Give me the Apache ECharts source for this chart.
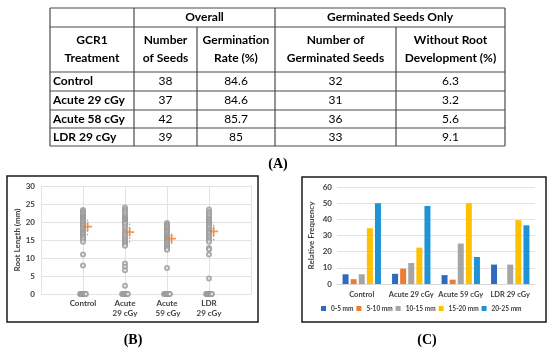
<!DOCTYPE html>
<html><head><meta charset="utf-8">
<script src="https://cdn.jsdelivr.net/npm/echarts@6/dist/echarts.min.js"></script>
<style>html,body{margin:0;padding:0;background:#fff}#c{width:550px;height:353px}</style>
</head><body><div id="c"></div>
<script>
// ---------- Table (A) data ----------
const tableGroupHeaders = ['Overall', 'Germinated Seeds Only'];
const tableColHeaders = ['GCR1\nTreatment', 'Number\nof Seeds', 'Germination\nRate (%)', 'Number of\nGerminated Seeds', 'Without Root\nDevelopment (%)'];
const tableTreatments = ['Control', 'Acute 29 cGy', 'Acute 58 cGy', 'LDR 29 cGy'];
const tableSeeds = [38, 37, 42, 39];
const tableGermRate = ['84.6', '84.6', '85.7', '85'];
const tableGerminated = [32, 31, 36, 33];
const tableNoRoot = ['6.3', '3.2', '5.6', '9.1'];

// ---------- Panel (B) data: root length (mm) ----------
const rootCategories = ['Control', 'Acute\n29 cGy', 'Acute\n 59 cGy', 'LDR\n29 cGy'];
const rootControl = [23.3, 23.0, 22.6, 22.2, 21.8, 21.4, 21.2, 21.0, 20.8, 20.6, 20.5, 20.2, 20.0, 19.6, 19.2, 19.0, 18.8, 18.4, 18.0, 17.6, 17.2, 17.0, 16.8, 16.4, 16.0, 15.6, 15.2, 14.5, 11.0, 7.9];
const rootAcute29 = [24.0, 23.5, 23.0, 22.4, 21.8, 21.3, 21.0, 20.8, 20.6, 20.3, 20.0, 19.8, 19.5, 18.8, 18.2, 17.5, 17.0, 16.5, 16.0, 15.5, 15.0, 14.6, 14.2, 13.8, 13.4, 8.5, 7.6, 6.6, 2.3];
const rootAcute59 = [19.7, 19.3, 19.0, 18.6, 18.2, 17.8, 17.5, 17.2, 16.8, 16.4, 16.0, 15.7, 15.6, 15.4, 15.2, 15.0, 14.9, 14.8, 14.5, 14.2, 13.8, 13.4, 13.0, 12.6, 12.3, 7.2];
const rootLDR = [23.5, 22.8, 22.2, 21.6, 21.0, 20.6, 20.2, 19.8, 19.4, 19.0, 18.6, 18.0, 17.5, 17.2, 16.8, 16.2, 15.6, 15.0, 14.5, 12.8, 12.4, 11.0, 4.3];
const rootMeans = [18.7, 17.2, 15.4, 17.4];
const rootSD = [2.4, 2.9, 1.5, 2.5];

// ---------- Panel (C) data: relative frequency ----------
const freqCategories = ['Control', 'Acute 29 cGy', 'Acute 59 cGy', 'LDR 29 cGy'];
const freqBins = ['0-5 mm', '5-10 mm', '10-15 mm', '15-20 mm', '20-25 mm'];
const freq0to5 = [6, 6.3, 5.5, 12];
const freq5to10 = [3, 9.5, 2.7, 0];
const freq10to15 = [6, 13, 25, 12];
const freq15to20 = [34.5, 22.5, 50, 39.5];
const freq20to25 = [50, 48.3, 16.7, 36.3];

// ---------- build ----------
const FONT = 'Lato, "Open Sans", sans-serif';
const SERIF = '"Liberation Serif", "DejaVu Serif", serif';
const graphics = [];

// table layout
const colX = [50, 134, 197, 275, 396, 505];
const rowY = [8, 27, 72, 91, 110, 128, 146];
const lineCol = '#4a4a4a';
rowY.forEach(y => graphics.push({type: 'line', shape: {x1: colX[0], y1: y, x2: colX[5], y2: y}, style: {stroke: lineCol, lineWidth: 1.2}}));
[0, 1, 3, 5].forEach(i => graphics.push({type: 'line', shape: {x1: colX[i], y1: rowY[0], x2: colX[i], y2: rowY[6]}, style: {stroke: lineCol, lineWidth: 1.2}}));
[2, 4].forEach(i => graphics.push({type: 'line', shape: {x1: colX[i], y1: rowY[1], x2: colX[i], y2: rowY[6]}, style: {stroke: lineCol, lineWidth: 1.2}}));

function txt(t, x, y, opt) {
  opt = opt || {};
  graphics.push({type: 'text', x: x, y: y, style: {
    text: t, fill: '#000', fontSize: opt.size || 12, fontWeight: opt.weight || 'normal',
    fontFamily: opt.family || FONT, align: opt.align || 'center', textAlign: opt.align || 'center',
    verticalAlign: 'middle', textVerticalAlign: 'middle', lineHeight: opt.lh || 18
  }});
}
txt(tableGroupHeaders[0], (colX[1] + colX[3]) / 2, (rowY[0] + rowY[1]) / 2, {weight: 'bold'});
txt(tableGroupHeaders[1], (colX[3] + colX[5]) / 2, (rowY[0] + rowY[1]) / 2, {weight: 'bold'});
tableColHeaders.forEach((h, i) => txt(h, (colX[i] + colX[i + 1]) / 2, (rowY[1] + rowY[2]) / 2, {weight: 'bold'}));
tableTreatments.forEach((t, r) => {
  const cy = (rowY[r + 2] + rowY[r + 3]) / 2;
  txt(t, colX[0] + 3, cy, {weight: 'bold', align: 'left'});
  [tableSeeds[r], tableGermRate[r], tableGerminated[r], tableNoRoot[r]].forEach((v, c) =>
    txt(String(v), (colX[c + 1] + colX[c + 2]) / 2, cy));
});
txt('(A)', 278, 164, {weight: 'bold', size: 14, family: SERIF});
txt('(B)', 133, 340, {weight: 'bold', size: 14, family: SERIF});
txt('(C)', 427, 340, {weight: 'bold', size: 14, family: SERIF});

// panel boxes
graphics.push({type: 'rect', shape: {x: 7, y: 176, width: 251, height: 146}, style: {fill: 'none', stroke: '#1a1a1a', lineWidth: 1.5}});
graphics.push({type: 'rect', shape: {x: 302, y: 177, width: 244, height: 145}, style: {fill: 'none', stroke: '#1a1a1a', lineWidth: 1.5}});

// scatter points for B
const rootGroups = [rootControl, rootAcute29, rootAcute59, rootLDR];
const scatterData = [];
rootGroups.forEach((g, i) => {
  g.forEach(v => scatterData.push([i + 1, v]));
  const zeros = tableSeeds[i] - tableGerminated[i] + Math.round(tableGerminated[i] * parseFloat(tableNoRoot[i]) / 100);
  for (let k = 0; k < zeros; k++) scatterData.push([i + 1 - 0.07 + 0.14 * k / (zeros - 1), 0]);
});
const meanData = rootMeans.map((m, i) => [i + 1.11, m]);
const errData = rootMeans.map((m, i) => [i + 1.11, m - rootSD[i], m + rootSD[i]]);

const axisText = {fontSize: 8, fontWeight: 'bold', color: '#404040', fontFamily: FONT};
const split = {show: true, lineStyle: {color: '#e3e3e3', width: 1}};
const freqColors = ['#2E6BBE', '#ED7D31', '#A5A5A5', '#FFC000', '#1F93D6'];
const freqSeries = [freq0to5, freq5to10, freq10to15, freq15to20, freq20to25];

const option = {
  backgroundColor: '#fff',
  animation: false,
  grid: [
    {left: 41, top: 186, width: 210, height: 108},
    {left: 337, top: 187, width: 198, height: 97}
  ],
  xAxis: [
    {type: 'value', gridIndex: 0, min: 0, max: 5, interval: 1,
     axisLine: {show: false}, axisTick: {show: false}, splitLine: split,
     axisLabel: Object.assign({}, axisText, {margin: 4, lineHeight: 10,
       formatter: v => (v >= 1 && v <= 4) ? rootCategories[v - 1] : ''})},
    {type: 'category', gridIndex: 1, data: freqCategories,
     axisLine: {show: true, lineStyle: {color: '#d9d9d9'}}, axisTick: {show: false},
     axisLabel: Object.assign({}, axisText, {margin: 7, interval: 0, hideOverlap: false, fontSize: 7.5})}
  ],
  yAxis: [
    {type: 'value', gridIndex: 0, min: 0, max: 30, interval: 5,
     axisLine: {show: false}, axisTick: {show: false}, splitLine: split,
     axisLabel: Object.assign({}, axisText, {margin: 6}),
     name: 'Root Length (mm)', nameLocation: 'middle', nameGap: 20, nameTextStyle: axisText},
    {type: 'value', gridIndex: 1, min: 0, max: 60, interval: 10,
     axisLine: {show: false}, axisTick: {show: false}, splitLine: split,
     axisLabel: Object.assign({}, axisText, {margin: 5}),
     name: 'Relative Frequency', nameLocation: 'middle', nameGap: 22, nameTextStyle: axisText}
  ],
  legend: {
    data: freqBins, left: 321, top: 305, itemWidth: 5, itemHeight: 5, itemGap: 3,
    icon: 'rect', textStyle: Object.assign({}, axisText, {fontSize: 6.5}), padding: 0
  },
  graphic: graphics,
  series: [
    {type: 'scatter', xAxisIndex: 0, yAxisIndex: 0, data: scatterData, symbol: 'emptyCircle', symbolSize: 4,
     itemStyle: {color: '#9a9a9a', borderWidth: 0.7}, z: 3},
    {type: 'custom', xAxisIndex: 0, yAxisIndex: 0, data: errData, encode: {x: 0, y: [1, 2]},
     renderItem: (params, api) => {
       const p1 = api.coord([api.value(0), api.value(1)]);
       const p2 = api.coord([api.value(0), api.value(2)]);
       return {type: 'line', shape: {x1: p1[0], y1: p1[1], x2: p2[0], y2: p2[1]},
               style: {stroke: '#8c8c8c', lineWidth: 1, lineDash: [1.5, 2]}};
     }, z: 4},
    {type: 'scatter', xAxisIndex: 0, yAxisIndex: 0, data: meanData,
     symbol: 'path://M4,0H6V4H10V6H6V10H4V6H0V4H4Z', symbolSize: 9,
     itemStyle: {color: '#ED7D31'}, z: 5}
  ].concat(freqSeries.map((d, i) => ({
    type: 'bar', name: freqBins[i], xAxisIndex: 1, yAxisIndex: 1, data: d,
    barWidth: 6, barGap: '35%', itemStyle: {color: freqColors[i]}
  })))
};
const chart = echarts.init(document.getElementById('c'), null, {renderer: 'canvas'});
chart.setOption(option);
</script>
</body></html>
